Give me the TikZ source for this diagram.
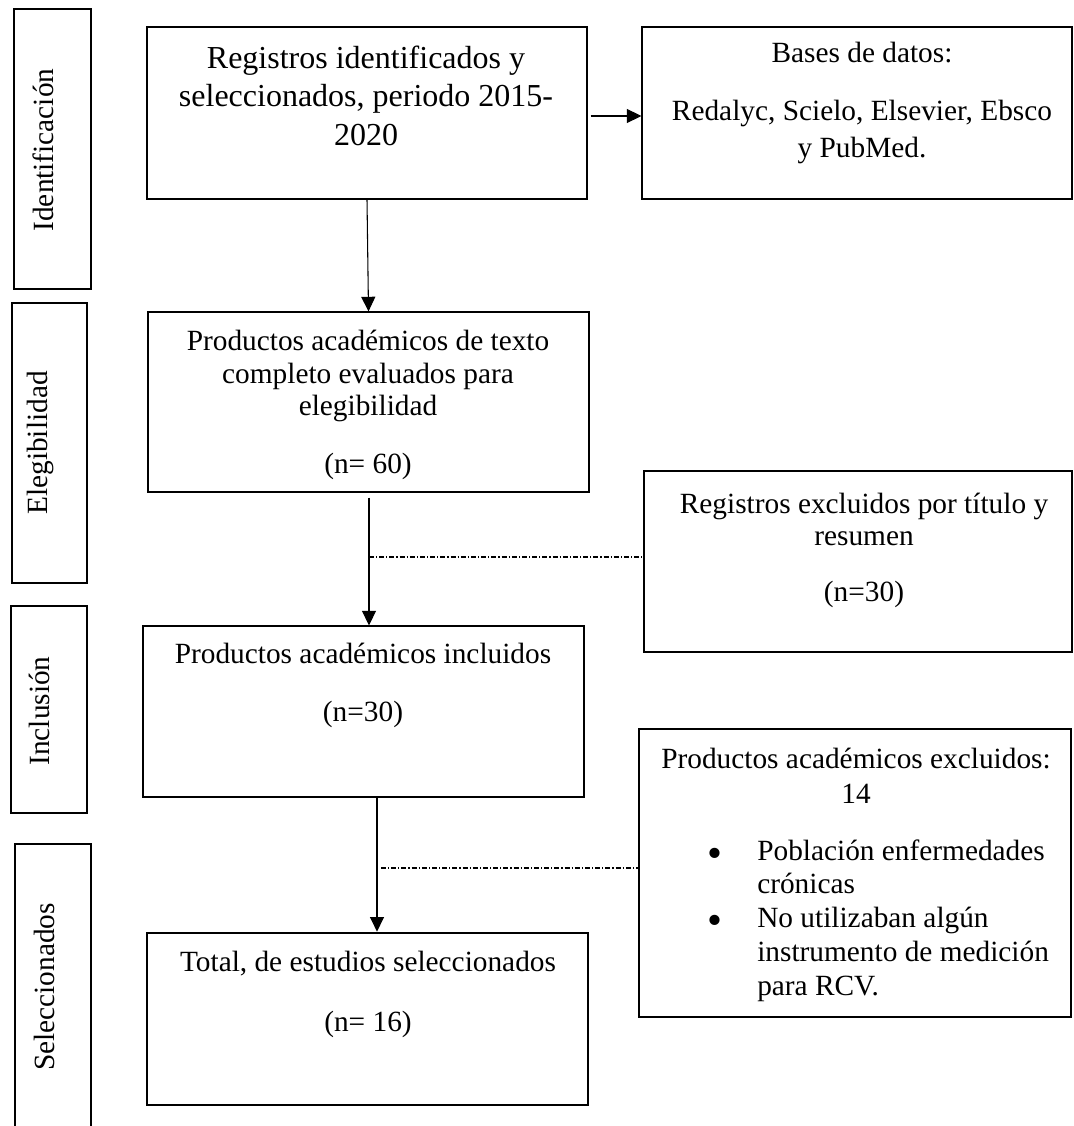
\documentclass[tikz,border=0pt]{standalone}
\usepackage{fontspec}
\setmainfont{Liberation Serif}
\usetikzlibrary{arrows.meta,fit,calc}
\begin{document}
\begin{tikzpicture}[x=0.75pt,y=-0.75pt,
  box/.style={draw=black, line width=0.8pt, inner sep=0pt},
  thickbox/.style={draw=black, line width=2pt, inner sep=0pt},
  txt/.style={font=\fontsize{22}{25}\selectfont, inner sep=0pt, anchor=base},
  bigtxt/.style={font=\fontsize{24}{28}\selectfont, inner sep=0pt, anchor=base},
  txtl/.style={font=\fontsize{22}{25}\selectfont, inner sep=0pt, anchor=base west},
  bullet/.style={font=\fontsize{32}{32}\selectfont, inner sep=0pt, anchor=base},
  lbl/.style={font=\fontsize{22}{25}\selectfont, inner sep=0pt, rotate=90},
  arr/.style={line width=0.8pt, -{Triangle[width=10.5pt,length=11pt]}},
  dd/.style={line width=0.8pt, dash pattern=on 3.75pt off 1.5pt on 0.9pt off 1.5pt}
]
\useasboundingbox (0,0) rectangle (1073,1126);
\fill[white] (0,0) rectangle (1073,1126);

% side phase boxes
\node[box, fit={(14,9) (91,289)}] (s1) {};
\node[lbl] (s1t) at (43,150) {Identificación};
\node[box, fit={(12,303) (87,583)}] (s2) {};
\node[lbl] (s2t) at (40,443) {Elegibilidad};
\node[box, fit={(11,606) (87,813)}] (s3) {};
\node[lbl] (s3t) at (39,711) {Inclusión};
\node[thickbox, fit={(15,844) (91,1140)}] (s4) {};
\node[lbl] (s4t) at (44,987) {Seleccionados};

% main boxes
\node[box, fit={(147,27) (587,199)}] (b1) {};
\node[box, fit={(642,27) (1072,199)}] (b2) {};
\node[box, fit={(148,312) (589,492)}] (b3) {};
\node[box, fit={(644,471) (1072,652)}] (b4) {};
\node[box, fit={(143,626) (584,797)}] (b5) {};
\node[thickbox, fit={(639,729) (1071,1017)}] (b6) {};
\node[thickbox, fit={(147,933) (588,1105)}] (b7) {};

% texts
\node[bigtxt] (t1a) at (366,69) {Registros identificados y};
\node[bigtxt] (t1b) at (366,107) {seleccionados, periodo 2015-};
\node[bigtxt] (t1c) at (366,146) {2020};

\node[txt] (t2a) at (862,63) {Bases de datos:};
\node[txt] (t2b) at (862,121) {Redalyc, Scielo, Elsevier, Ebsco};
\node[txt] (t2c) at (862,158) {y PubMed.};

\node[txt] (t3a) at (368,350) {Productos académicos de texto};
\node[txt] (t3b) at (368,383) {completo evaluados para};
\node[txt] (t3c) at (368,415) {elegibilidad};
\node[txt] (t3d) at (368,473) {(n= 60)};

\node[txt] (t4a) at (864,513) {Registros excluidos por título y};
\node[txt] (t4b) at (864,545) {resumen};
\node[txt] (t4c) at (864,601) {(n=30)};

\node[txt] (t5a) at (363,663) {Productos académicos incluidos};
\node[txt] (t5b) at (363,721) {(n=30)};

\node[txt] (t6a) at (856,768) {Productos académicos excluidos:};
\node[txt] (t6b) at (856,803) {14};
\node[bullet] (bul1) at (715,867) {•};
\node[txtl] (t6c) at (757,860) {Población enfermedades};
\node[txtl] (t6d) at (757,893) {crónicas};
\node[bullet] (bul2) at (715,934) {•};
\node[txtl] (t6e) at (757,927) {No utilizaban algún};
\node[txtl] (t6f) at (757,961) {instrumento de medición};
\node[txtl] (t6g) at (757,995) {para RCV.};

\node[txt] (t7a) at (368,971) {Total, de estudios seleccionados};
\node[txt] (t7b) at (368,1031) {(n= 16)};

% connectors
\coordinate (ya) at (0,116);
\draw[arr, shorten <=2.25pt] (b1.east |- ya) -- (b2.west |- ya);
\draw[arr] (b1.south) -- (b3.north);
\coordinate (xa) at (369,0);
\draw[arr, shorten <=3.75pt] (b3.south -| xa) -- (b5.north -| xa);
\coordinate (xb) at (377,0);
\draw[arr] (b5.south -| xb) -- (b7.north -| xb);
\coordinate (yd1) at (0,557);
\draw[dd] (xa |- yd1) -- (b4.west |- yd1);
\coordinate (yd2) at (0,868);
\draw[dd, shorten <=3pt] (xb |- yd2) -- (b6.west |- yd2);
\end{tikzpicture}
\end{document}
